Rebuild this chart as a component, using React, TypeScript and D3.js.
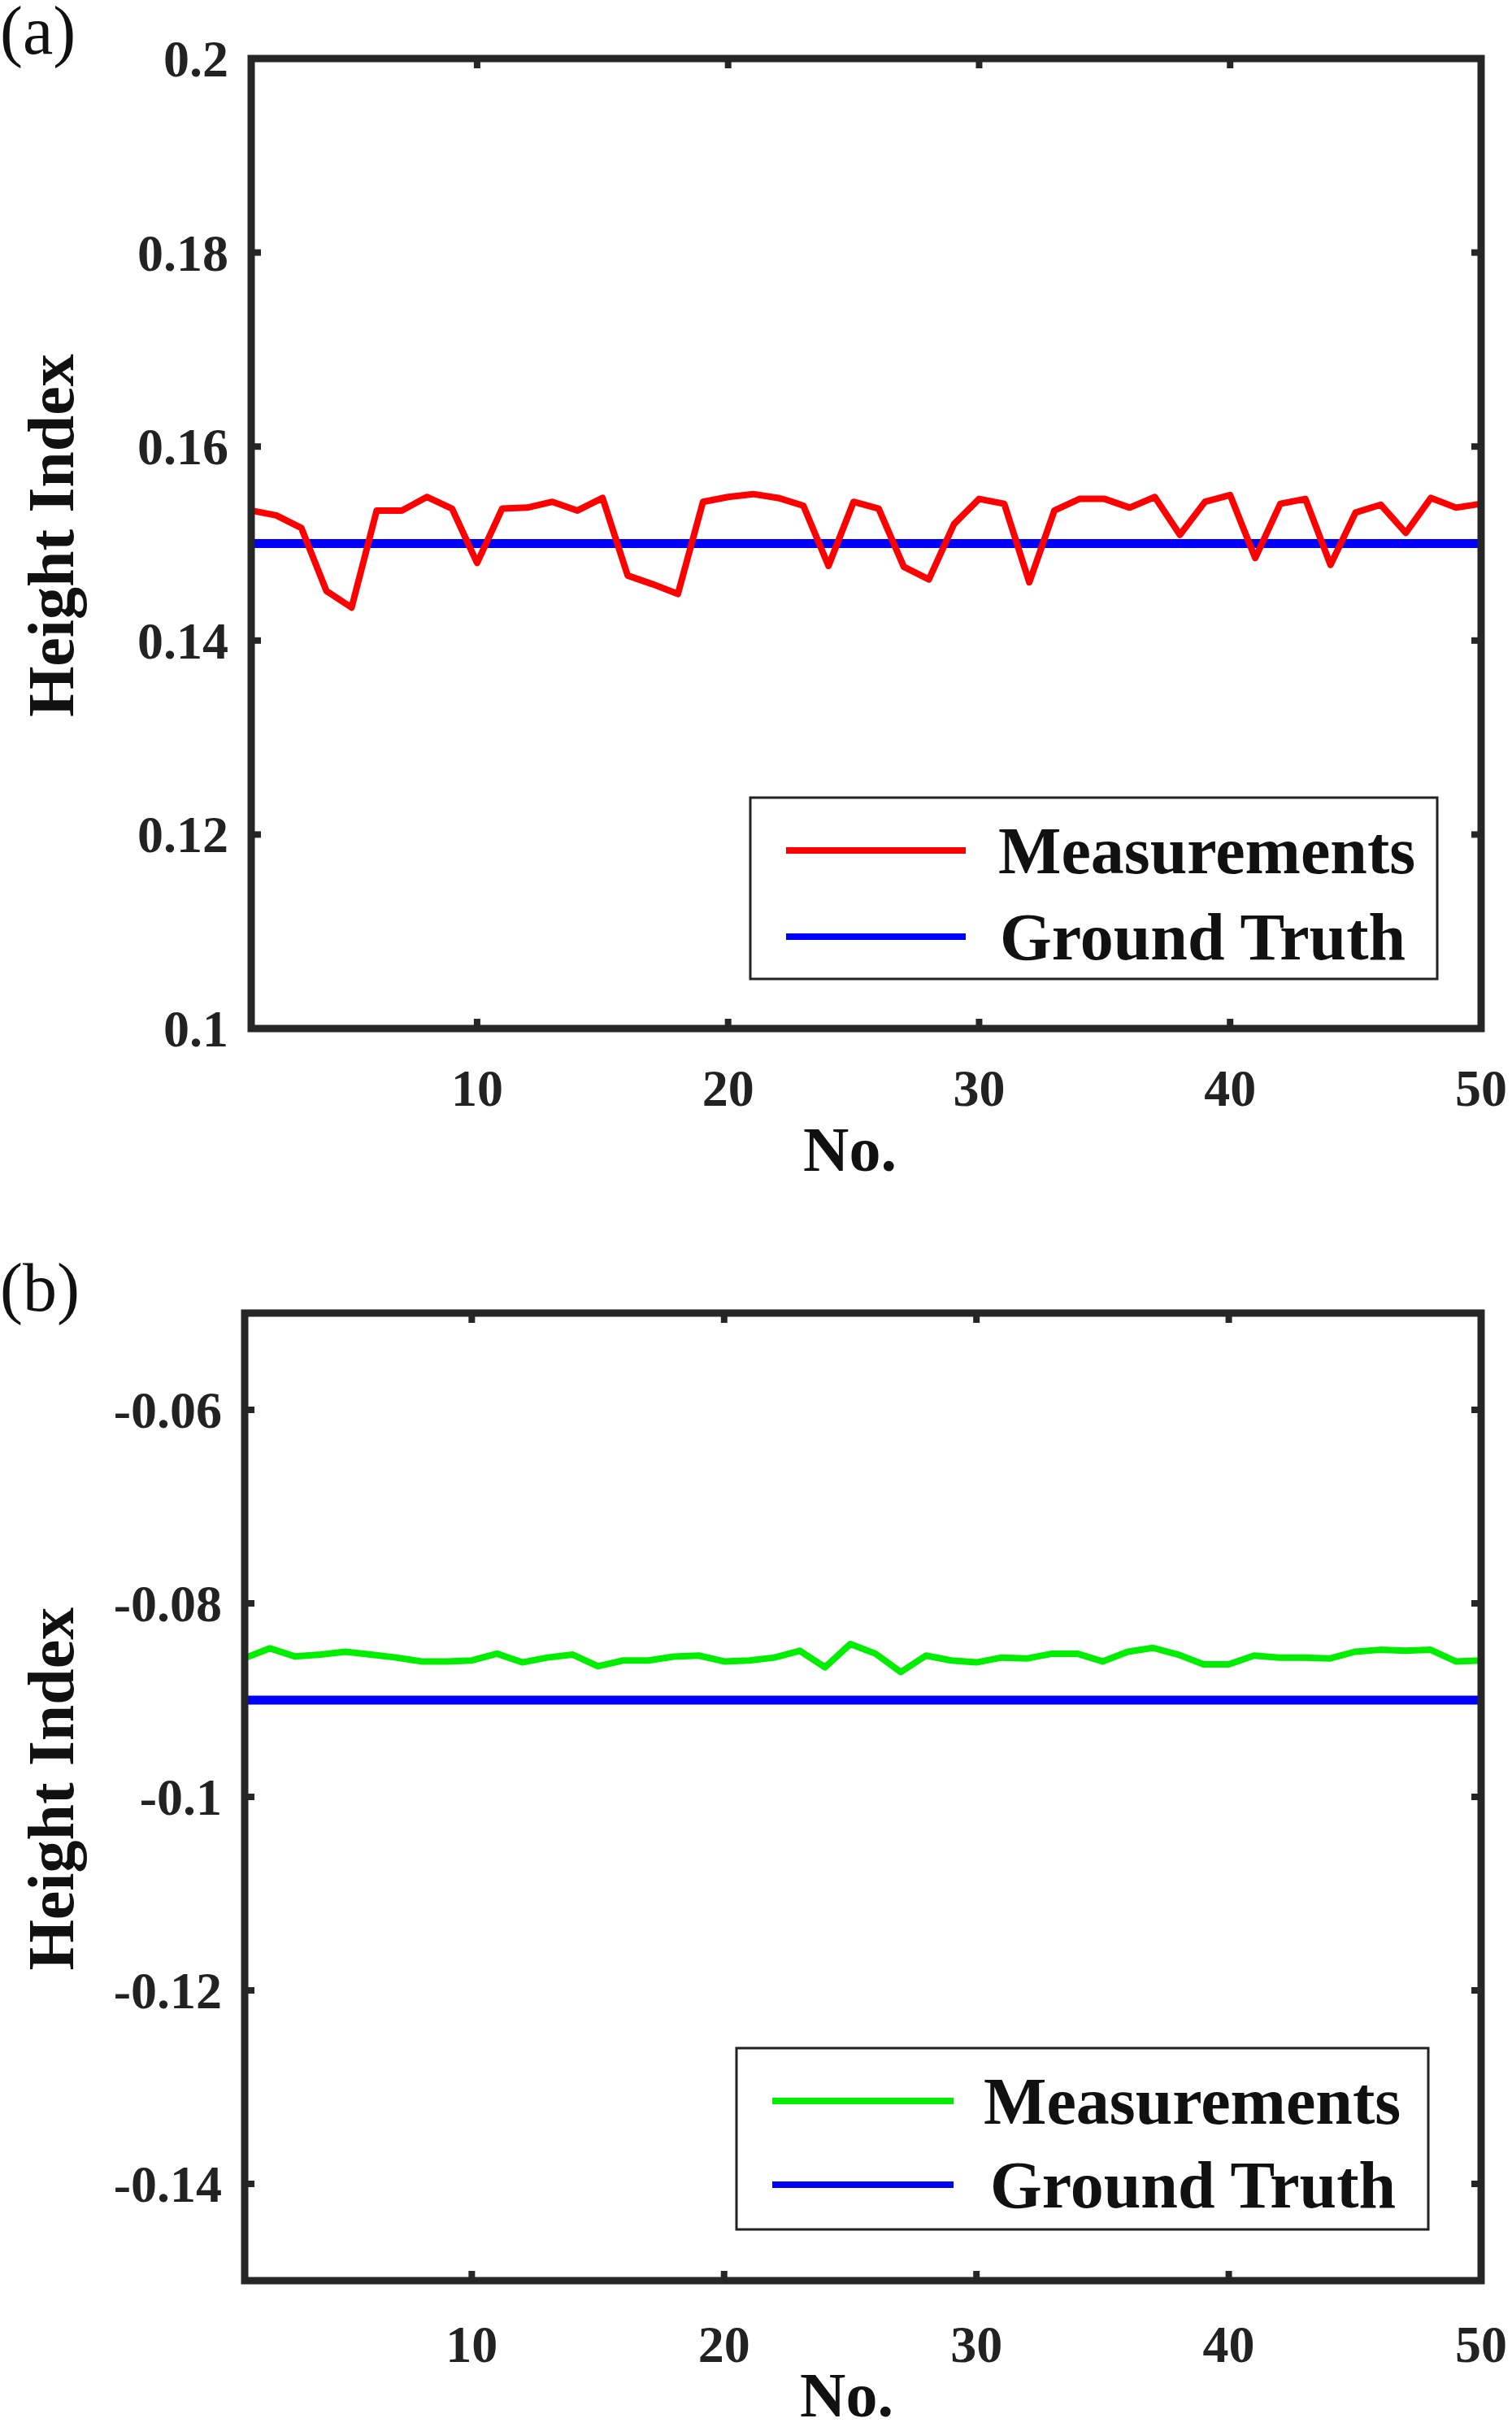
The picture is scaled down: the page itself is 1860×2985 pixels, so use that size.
import * as d3 from 'd3';
import { useEffect, useRef } from 'react';

const idx = d3.range(1, 51);
const measA = [
  0.1534, 0.1529, 0.1516, 0.1451, 0.1434, 0.1534, 0.1534, 0.1548, 0.1536, 0.148,
  0.1536, 0.1537, 0.1543, 0.1534, 0.1547, 0.1467, 0.1458, 0.1448, 0.1543, 0.1548,
  0.1551, 0.1547, 0.1539, 0.1477, 0.1543, 0.1536, 0.1476, 0.1463, 0.152, 0.1546,
  0.1541, 0.146, 0.1534, 0.1546, 0.1546, 0.1537, 0.1548, 0.1509, 0.1543, 0.155,
  0.1485, 0.1541, 0.1546, 0.1478, 0.1532, 0.154, 0.1511, 0.1547, 0.1537, 0.1541,
];
const measB = [
  -0.08566, -0.08465, -0.08549, -0.0853, -0.085, -0.0853, -0.0856, -0.086, -0.086, -0.0859,
  -0.0852, -0.0861, -0.0856, -0.0853, -0.0865, -0.0859, -0.0859, -0.0855, -0.0854, -0.086,
  -0.0859, -0.0856, -0.0849, -0.0866, -0.0842, -0.0852, -0.0871, -0.0854, -0.0859, -0.0861,
  -0.0856, -0.0857, -0.0852, -0.0852, -0.086, -0.085, -0.0846, -0.0853, -0.0863, -0.0863,
  -0.0854, -0.0856, -0.0856, -0.0857, -0.085, -0.0848, -0.0849, -0.0848, -0.086, -0.0859,
];
const truthA = 0.15;
const truthB = -0.09;
const xTicks = [10, 20, 30, 40, 50];
const yTicksA = [0.1, 0.12, 0.14, 0.16, 0.18, 0.2];
const yTicksB = [-0.14, -0.12, -0.1, -0.08, -0.06];
const legendLabels = ['Measurements', 'Ground Truth'];

const W = 1860;
const H = 2985;
const FONT = "'Liberation Serif', 'Times New Roman', Times, serif";

type Panel = {
  tag: string; tagY: number;
  left: number; right: number; top: number; bottom: number;
  yDomain: [number, number]; yTicks: number[]; fmt: (v: number) => string;
  meas: number[]; truth: number; color: string;
  legend: { x0: number; x1: number; y0: number; y1: number; lx0: number; lx1: number; ly: number[]; tx: number[] };
  xLabelY: number; noY: number;
};

const panels: Panel[] = [
  {
    tag: '(a)', tagY: 66, left: 309, right: 1822, top: 72, bottom: 1265,
    yDomain: [0.1, 0.2], yTicks: yTicksA, fmt: (v) => String(+v.toFixed(2)),
    meas: measA, truth: truthA, color: '#ff0000',
    legend: { x0: 923, x1: 1768, y0: 981, y1: 1204, lx0: 967, lx1: 1188, ly: [1046, 1152], tx: [1228, 1230] },
    xLabelY: 1360, noY: 1440,
  },
  {
    tag: '(b)', tagY: 1612, left: 301, right: 1822, top: 1615, bottom: 2805,
    yDomain: [-0.15, -0.05], yTicks: yTicksB, fmt: (v) => String(+v.toFixed(2)),
    meas: measB, truth: truthB, color: '#00ee00',
    legend: { x0: 906, x1: 1757, y0: 2519, y1: 2742, lx0: 950, lx1: 1173, ly: [2584, 2687], tx: [1210, 1218] },
    xLabelY: 2905, noY: 2972,
  },
];

export default function App() {
  const ref = useRef<SVGSVGElement | null>(null);

  useEffect(() => {
    document.body.style.margin = '0';
    const svg = d3.select(ref.current);
    svg.selectAll('*').remove();
    svg.append('rect').attr('width', W).attr('height', H).attr('fill', '#fff');

    panels.forEach((p) => {
      const g = svg.append('g');
      const x = d3.scaleLinear().domain([1, 50]).range([p.left, p.right]);
      const y = d3.scaleLinear().domain(p.yDomain).range([p.bottom, p.top]);
      const axisColor = '#262626';

      // ticks (inward on all four sides)
      xTicks.forEach((t) => {
        g.append('line').attr('x1', x(t)).attr('x2', x(t)).attr('y1', p.bottom).attr('y2', p.bottom - 12).attr('stroke', axisColor).attr('stroke-width', 8);
        g.append('line').attr('x1', x(t)).attr('x2', x(t)).attr('y1', p.top).attr('y2', p.top + 12).attr('stroke', axisColor).attr('stroke-width', 8);
        g.append('text').attr('x', x(t)).attr('y', p.xLabelY).attr('text-anchor', 'middle')
          .attr('font-family', FONT).attr('font-weight', 'bold').attr('font-size', 64).attr('fill', '#222').text(t);
      });
      p.yTicks.forEach((t) => {
        g.append('line').attr('x1', p.left).attr('x2', p.left + 12).attr('y1', y(t)).attr('y2', y(t)).attr('stroke', axisColor).attr('stroke-width', 8);
        g.append('line').attr('x1', p.right).attr('x2', p.right - 12).attr('y1', y(t)).attr('y2', y(t)).attr('stroke', axisColor).attr('stroke-width', 8);
        g.append('text').attr('x', p.left - 28).attr('y', y(t) + 22).attr('text-anchor', 'end')
          .attr('font-family', FONT).attr('font-weight', 'bold').attr('font-size', 64).attr('fill', '#222').text(p.fmt(t));
      });

      // data
      g.append('line').attr('x1', p.left).attr('x2', p.right).attr('y1', y(p.truth)).attr('y2', y(p.truth))
        .attr('stroke', '#0000ff').attr('stroke-width', 11);
      const line = d3.line<number>().x((_, i) => x(idx[i])).y((d) => y(d));
      g.append('path').datum(p.meas).attr('d', line).attr('fill', 'none').attr('stroke', p.color)
        .attr('stroke-width', 8).attr('stroke-linejoin', 'round');

      // frame
      g.append('rect').attr('x', p.left).attr('y', p.top).attr('width', p.right - p.left).attr('height', p.bottom - p.top)
        .attr('fill', 'none').attr('stroke', axisColor).attr('stroke-width', 9);

      // labels
      g.append('text').attr('x', (p.left + p.right) / 2 - 20).attr('y', p.noY).attr('text-anchor', 'middle')
        .attr('font-family', FONT).attr('font-weight', 'bold').attr('font-size', 78).attr('fill', '#111').text('No.');
      g.append('text').attr('transform', `translate(90,${(p.top + p.bottom) / 2 - 10}) rotate(-90)`).attr('text-anchor', 'middle')
        .attr('font-family', FONT).attr('font-weight', 'bold').attr('font-size', 80).attr('fill', '#111').text('Height Index');
      g.append('text').attr('x', 0).attr('y', p.tagY).attr('font-family', FONT).attr('font-size', 84).attr('fill', '#111').text(p.tag);

      // legend
      const L = p.legend;
      g.append('rect').attr('x', L.x0).attr('y', L.y0).attr('width', L.x1 - L.x0).attr('height', L.y1 - L.y0)
        .attr('fill', '#fff').attr('stroke', '#222').attr('stroke-width', 3);
      [p.color, '#0000ff'].forEach((c, i) => {
        g.append('line').attr('x1', L.lx0).attr('x2', L.lx1).attr('y1', L.ly[i]).attr('y2', L.ly[i]).attr('stroke', c).attr('stroke-width', 8);
        g.append('text').attr('x', L.tx[i]).attr('y', L.ly[i] + 28).attr('font-family', FONT).attr('font-weight', 'bold')
          .attr('font-size', 82).attr('fill', '#111').text(legendLabels[i]);
      });
    });
  }, []);

  return <svg ref={ref} width={W} height={H} viewBox={`0 0 ${W} ${H}`} style={{ display: 'block' }} />;
}
